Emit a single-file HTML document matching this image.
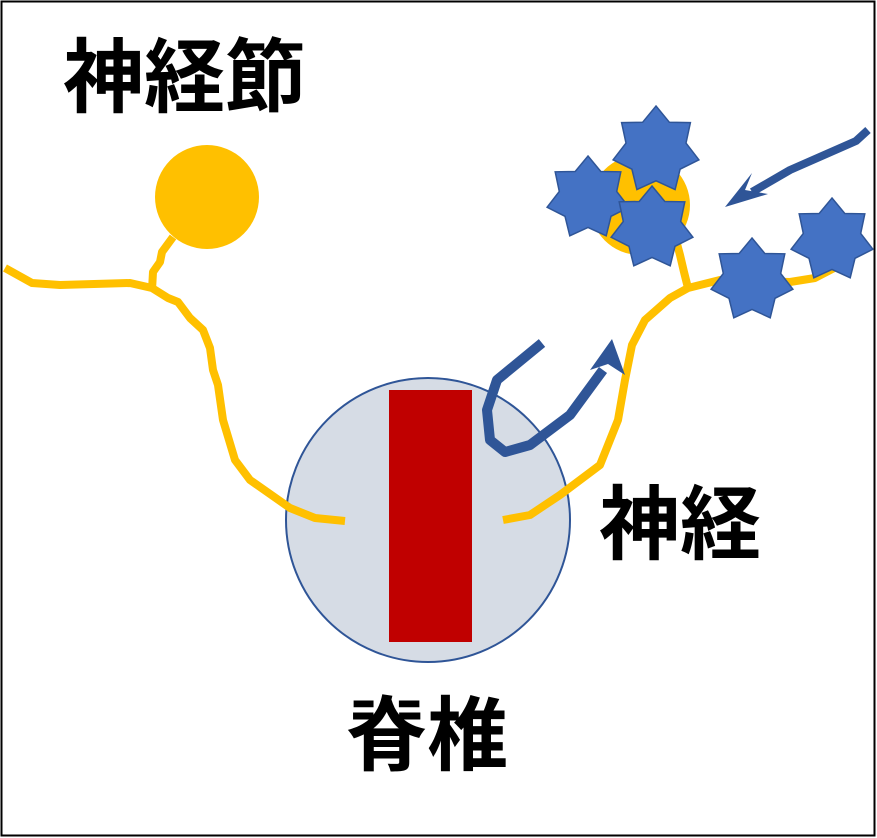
<!DOCTYPE html>
<html><head><meta charset="utf-8"><style>
html,body{margin:0;padding:0;background:#fff}
svg{display:block}
text{font-family:"Liberation Sans","Noto Sans CJK JP",sans-serif;font-weight:bold;fill:#000}
</style></head><body>
<svg width="877" height="838" viewBox="0 0 877 838" xmlns="http://www.w3.org/2000/svg">
<rect x="1.5" y="1.5" width="873" height="834" fill="#fff" stroke="#000" stroke-width="2"/>
<text x="63" y="106" font-size="81">神経節</text>
<text x="599" y="553" font-size="81">神経</text>
<text x="346" y="764" font-size="81">脊椎</text>
<circle cx="428" cy="520" r="142" fill="#d6dce5" stroke="#2f5597" stroke-width="2"/>
<rect x="389" y="390" width="83" height="252" fill="#c00000"/>
<circle cx="207" cy="197" r="52" fill="#ffc000"/>
<g fill="none" stroke="#ffc000" stroke-width="8" stroke-linejoin="round">
<path d="M5,268 L32,283 L60,285 L130,283 L152,288 L168,298 L178,302 L190,318 L203,330 L210,348 L213,370 L218,385 L223,420 L235,460 L250,480 L290,508 L315,518 L345,521"/>
<path d="M152,290 L153,272 L160,262 L162,252 L173,237"/>
<path d="M503,520 L530,515 L560,495 L600,465 L618,420 L625,380 L632,345 L645,320 L670,298 L688,288 L720,280 L790,282 L815,278 L840,265"/>
<path d="M688,288 L684,272 L680,255 L676,240"/>
</g>
<circle cx="640" cy="205" r="50" fill="#ffc000"/>
<g fill="none" stroke="#2f5597" stroke-width="10" stroke-linejoin="round">
<path d="M542,343 L497,380 L487,410 L490,440 L505,452 L530,445 L570,415 L603,370"/>
<path d="M868,130 L856,141 L790,170 L752,192" stroke-width="8"/>
</g>
<polygon points="612,339 625,375 608,364 590,370" fill="#2f5597"/>
<polygon points="725,207 752,173 745,190 768,194" fill="#2f5597"/>
<g id="stars" fill="#4472c4" stroke="#2f5597" stroke-width="1.5"></g>
</svg>
<script>
var g=document.getElementById('stars');
[[656,150,44],[588,198,42],[652,228,42],[752,280,42],[832,240,42]].forEach(function(s){
var p=[];for(var i=0;i<14;i++){var r=i%2?s[2]*0.7:s[2];var a=-Math.PI/2+i*Math.PI/7;p.push((s[0]+r*Math.cos(a)).toFixed(1)+','+(s[1]+r*Math.sin(a)).toFixed(1));}
var e=document.createElementNS('http://www.w3.org/2000/svg','polygon');e.setAttribute('points',p.join(' '));g.appendChild(e);});
</script>
</body></html>
